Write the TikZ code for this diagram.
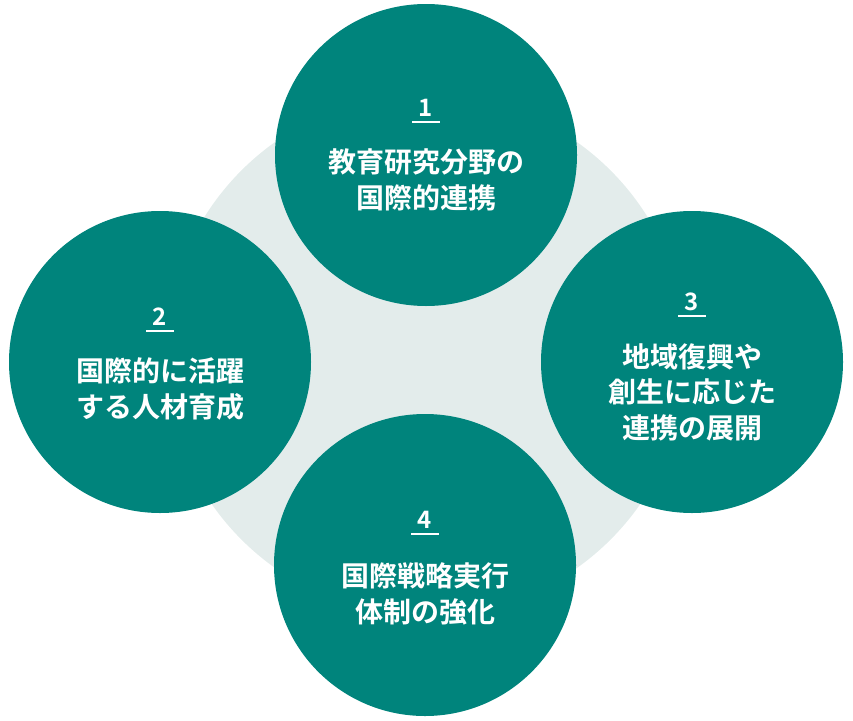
\documentclass[tikz,border=0pt]{standalone}
\usepackage{fontspec}
\newfontfamily\jp{Noto Sans CJK JP}[BoldFont={Noto Sans CJK JP Bold}]
\definecolor{teal1}{HTML}{00847C}
\definecolor{bgc}{HTML}{E3ECEB}
\tikzset{
  bigc/.style={circle, fill=teal1, minimum size=302pt, inner sep=0pt},
  numtxt/.style={text=white, font=\jp\bfseries\fontsize{24}{28}\selectfont, inner sep=0pt},
  lbltxt/.style={text=white, align=center, font=\jp\bfseries\fontsize{28}{35.5}\selectfont, inner sep=0pt},
  uline/.style={white, line width=1.4pt}
}
\begin{document}
\begin{tikzpicture}[x=1pt,y=-1pt]
\useasboundingbox (0,0) rectangle (853,720);
\node[circle, fill=bgc, minimum size=522pt, inner sep=0pt] (bg) at (426,355) {};
\node[bigc] (c1) at (426,155) {};
\node[bigc] (c2) at (160,362) {};
\node[bigc] (c3) at (692,362) {};
\node[bigc] (c4) at (425,565) {};
% circle 1
\node[numtxt] (n1) at ([yshift=47pt]c1.center) {1};
\draw[uline] ([xshift=-14pt,yshift=-14pt]n1.center) -- ([xshift=14pt,yshift=-14pt]n1.center);
\node[lbltxt] (t1) at ([yshift=-25pt]c1.center) {教育研究分野の\\国際的連携};
% circle 2
\node[numtxt] (n2) at ([yshift=45pt]c2.center) {2};
\draw[uline] ([xshift=-14pt,yshift=-14pt]n2.center) -- ([xshift=14pt,yshift=-14pt]n2.center);
\node[lbltxt] (t2) at ([yshift=-27pt]c2.center) {国際的に活躍\\する人材育成};
% circle 3
\node[numtxt] (n3) at ([yshift=60pt]c3.center) {3};
\draw[uline] ([xshift=-14pt,yshift=-14pt]n3.center) -- ([xshift=14pt,yshift=-14pt]n3.center);
\node[lbltxt] (t3) at ([yshift=-30pt]c3.center) {地域復興や\\創生に応じた\\連携の展開};
% circle 4
\node[numtxt] (n4) at ([yshift=45pt]c4.center) {4};
\draw[uline] ([xshift=-14pt,yshift=-14pt]n4.center) -- ([xshift=14pt,yshift=-14pt]n4.center);
\node[lbltxt] (t4) at ([yshift=-29pt]c4.center) {国際戦略実行\\体制の強化};
\end{tikzpicture}
\end{document}
